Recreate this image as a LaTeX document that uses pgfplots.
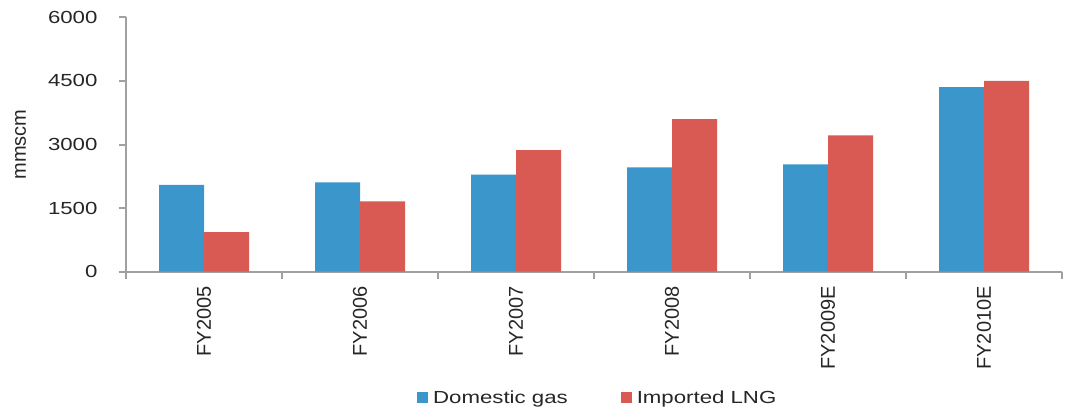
\documentclass[border=0pt]{standalone}
\usepackage{pgfplots}
\pgfplotsset{compat=1.18}
\usepackage{fontspec}
\setmainfont{Liberation Sans}[FakeStretch=1.27]
\newfontfamily\rotfont{Liberation Sans}
\definecolor{bblue}{HTML}{3A96CB}
\definecolor{rred}{HTML}{D95953}
\definecolor{axgray}{HTML}{A0A0A4}
\definecolor{txt}{HTML}{262626}
\pgfplotsset{sqlegend/.style={legend image code/.code={\fill[##1] (0pt,-5.5pt) rectangle (11pt,5.5pt); \path (14pt,0pt);}}}
\begin{document}
\begin{tikzpicture}
\path[use as bounding box] (0,0) rectangle (1079pt,408pt);
\begin{axis}[
  at={(126pt,136.3pt)}, anchor=south west,
  scale only axis, width=936pt, height=254.4pt,
  ybar=0pt, bar width=45pt,
  xmin=-0.5, xmax=5.5, ymin=0, ymax=6000,
  axis x line*=bottom, axis y line*=left,
  axis line style={axgray, line width=2pt, -},
  tick style={axgray, line width=2pt},
  tick align=outside, major tick length=7pt,
  xtick={-0.5,0.5,...,5.5}, x tick label as interval,
  xticklabels={FY2005,FY2006,FY2007,FY2008,FY2009E,FY2010E},
  xticklabel style={yshift=-4pt, rotate=90, anchor=east, font=\rotfont\fontsize{20}{22}\selectfont, text=txt},
  ytick={0,1500,3000,4500,6000},
  yticklabels={0,1500,3000,4500,6000},
  yticklabel style={xshift=-18pt, font=\fontsize{17.5}{20}\selectfont, text=txt},
  ylabel={mmscm},
  ylabel style={at={(axis description cs:-0.1127,0.5)}, anchor=center, font=\rotfont\fontsize{20}{22}\selectfont, text=txt},
  legend columns=2,
  legend style={at={(0.504,-0.496)}, anchor=center, draw=none, fill=none,
    font=\fontsize{17.5}{20}\selectfont, text=txt,
    /tikz/every even column/.append style={column sep=51pt}},
]
\addplot[fill=bblue, draw=none, sqlegend] coordinates {(0,2045) (1,2108) (2,2288) (3,2462) (4,2533) (5,4356)};
\addplot[fill=rred, draw=none, sqlegend] coordinates {(0,936) (1,1660) (2,2870) (3,3601) (4,3217) (5,4498)};
\legend{Domestic gas, Imported LNG}
\end{axis}
\end{tikzpicture}
\end{document}
